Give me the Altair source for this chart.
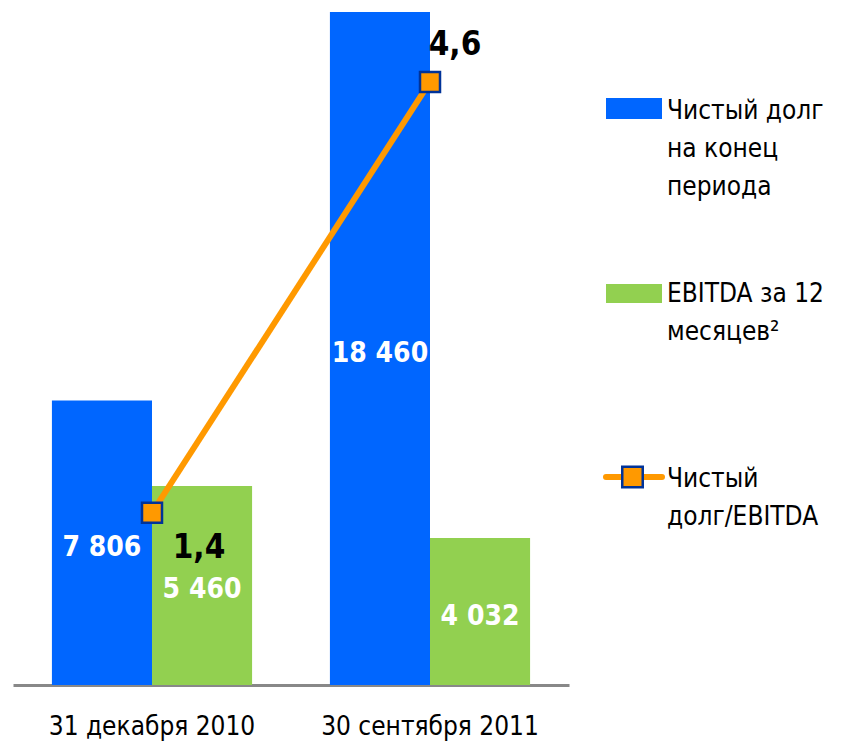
import altair as alt
import pandas as pd

FONT = "DejaVu Sans Condensed, Liberation Sans, sans-serif"

categories = ["31 декабря 2010", "30 сентября 2011"]
series = ["Чистый долг на конец периода", "EBITDA за 12 месяцев²"]
net_debt = [7806, 18460]
ebitda = [5460, 4032]
ratio = [1.4, 4.6]
net_debt_labels = ["7 806", "18 460"]
ebitda_labels = ["5 460", "4 032"]
ratio_labels = ["1,4", "4,6"]
legend_texts = ["Чистый долг\nна конец\nпериода", "EBITDA  за 12\nмесяцев²", "Чистый\nдолг/EBITDA"]

BLUE = "#0066FF"
GREEN = "#92D050"
ORANGE = "#FF9900"
NAVY = "#003399"

bars_df = pd.DataFrame({
    "period": categories * 2,
    "series": [series[0]] * 2 + [series[1]] * 2,
    "value": net_debt + ebitda,
    "label": net_debt_labels + ebitda_labels,
})
line_df = pd.DataFrame({"period": categories, "ratio": ratio, "rlabel": ratio_labels})
one = pd.DataFrame({"k": [0]})

x = alt.X(
    "period:N", sort=categories,
    scale=alt.Scale(paddingInner=0.28, paddingOuter=0.14),
    axis=alt.Axis(title=None, labelAngle=0, ticks=False, domainColor="#888888",
                  domainWidth=3, labelFontSize=26, labelFont=FONT, labelColor="black",
                  labelPadding=28, labelLimit=0),
)
xo = alt.XOffset("series:N", sort=series, scale=alt.Scale(paddingInner=0, paddingOuter=0))
yscale = alt.Scale(domain=[0, 18460], nice=False)

bars = alt.Chart(bars_df).mark_bar().encode(
    x=x, xOffset=xo,
    y=alt.Y("value:Q", scale=yscale, axis=None),
    color=alt.Color("series:N", sort=series, scale=alt.Scale(domain=series, range=[BLUE, GREEN]), legend=None),
)
bar_labels = alt.Chart(bars_df).transform_calculate(mid="datum.value / 2").mark_text(
    font=FONT, fontWeight="bold", fontSize=28, color="white", baseline="middle", dy=5
).encode(
    x=x, xOffset=xo,
    y=alt.Y("mid:Q", scale=yscale, axis=None),
    text="label:N",
)

rscale = alt.Scale(domain=[0.12, 5.12], nice=False)
line = alt.Chart(line_df).mark_line(color=ORANGE, strokeWidth=6).encode(
    x=x, y=alt.Y("ratio:Q", scale=rscale, axis=None)
)
pts = alt.Chart(line_df).mark_point(
    shape="square", size=400, filled=True, fill=ORANGE, stroke=NAVY, strokeWidth=2.5, opacity=1
).encode(x=x, y=alt.Y("ratio:Q", scale=rscale, axis=None))
rl1 = alt.Chart(line_df).transform_filter(alt.datum.period == categories[0]).mark_text(
    font=FONT, fontWeight="bold", fontSize=33, color="black", baseline="middle", dx=47, dy=35
).encode(x=x, y=alt.Y("ratio:Q", scale=rscale, axis=None), text="rlabel:N")
rl2 = alt.Chart(line_df).transform_filter(alt.datum.period == categories[1]).mark_text(
    font=FONT, fontWeight="bold", fontSize=33, color="black", baseline="middle", dx=25, dy=-37
).encode(x=x, y=alt.Y("ratio:Q", scale=rscale, axis=None), text="rlabel:N")

# custom legend
leg_txt = dict(font=FONT, fontSize=26, color="black", align="left", baseline="alphabetic", lineBreak="\n", lineHeight=38)
lg_r1 = alt.Chart(one).mark_rect(color=BLUE).encode(
    x=alt.value(593), x2=alt.value(649), y=alt.value(86), y2=alt.value(107))
lg_t1 = alt.Chart(one).mark_text(**leg_txt).encode(
    x=alt.value(654), y=alt.value(107), text=alt.value(legend_texts[0]))
lg_r2 = alt.Chart(one).mark_rect(color=GREEN).encode(
    x=alt.value(593), x2=alt.value(649), y=alt.value(272), y2=alt.value(291))
lg_t2 = alt.Chart(one).mark_text(**leg_txt).encode(
    x=alt.value(654), y=alt.value(290), text=alt.value(legend_texts[1]))
lg_l3 = alt.Chart(one).mark_rule(color=ORANGE, strokeWidth=6, strokeCap="round").encode(
    x=alt.value(593), x2=alt.value(649), y=alt.value(465))
lg_p3 = alt.Chart(one).mark_point(
    shape="square", size=420, filled=True, fill=ORANGE, stroke=NAVY, strokeWidth=2.5, opacity=1
).encode(x=alt.value(619.5), y=alt.value(465))
lg_t3 = alt.Chart(one).mark_text(**leg_txt).encode(
    x=alt.value(654), y=alt.value(475), text=alt.value(legend_texts[2]))

chart = alt.layer(
    bars, bar_labels, line, pts, rl1, rl2,
    lg_r1, lg_t1, lg_r2, lg_t2, lg_l3, lg_p3, lg_t3,
).resolve_scale(y="independent").properties(
    width=556, height=673,
    background="white",
    autosize=alt.AutoSizeParams(type="none"),
    padding={"left": 13, "top": 12, "right": 272, "bottom": 60},
).configure_view(strokeWidth=0, stroke=None)

chart.save("out.html", embed_options={"renderer": "svg", "actions": False})
